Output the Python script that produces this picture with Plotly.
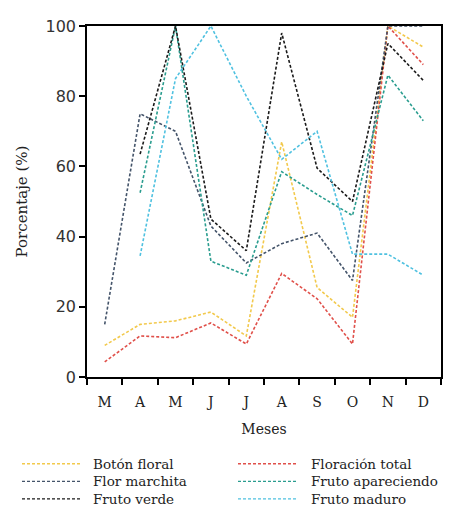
import plotly.graph_objects as go

months = ["M", "A", "M", "J", "J", "A", "S", "O", "N", "D"]

boton_floral      = [9, 15, 16, 18.5, 11.7, 67, 25.5, 17, 100, 94]
floracion_total   = [4.3, 11.7, 11.2, 15.4, 9.4, 29.5, 22.3, 9.4, 100, 89]
flor_marchita     = [15, 75, 70, 43, 32.5, 38, 41, 27.5, 100, 100]
fruto_apareciendo = [None, 52.5, 100, 33, 29, 58.5, 52, 46, 86, 73]
fruto_verde       = [None, 63.5, 100, 45, 36, 98, 59.5, 50, 95, 84.5]
fruto_maduro      = [None, 34.5, 85, 100, 80, 62, 70, 35, 35, 29]

series_names = ["Botón floral", "Floración total", "Flor marchita",
                "Fruto apareciendo", "Fruto verde", "Fruto maduro"]
series_values = [boton_floral, floracion_total, flor_marchita,
                 fruto_apareciendo, fruto_verde, fruto_maduro]
series_colors = ["#f2c94c", "#e0504a", "#44546a", "#2a9d8f", "#1a1a1a", "#4fc1e0"]

OFF = 8  # page body margin
W, H = 465 - OFF, 521 - OFF
L, R, T, B = 87 - OFF, 24, 17 - OFF, 144
PW, PH = W - L - R, H - T - B

def px2x(px):
    return (px - OFF - L) / PW

def py2y(py):
    return (H - B - (py - OFF)) / PH

dash = "3px,2px"
x = list(range(len(months)))
fig = go.Figure()
for name, vals, col in zip(series_names, series_values, series_colors):
    fig.add_trace(go.Scatter(
        x=x, y=vals, name=name, mode="lines",
        line=dict(color=col, width=1.6, dash=dash),
        connectgaps=False, showlegend=False,
    ))

serif = "DejaVu Serif"
# custom two-column legend below the chart (screen pixel positions)
col_x = [(22, 80, 92), (238, 298, 310)]
row_y = [466, 484, 502]
for i, (name, col) in enumerate(zip(series_names, series_colors)):
    cx0, cx1, tx = col_x[i % 2]
    ry = row_y[i // 2]
    fig.add_shape(type="line", xref="paper", yref="paper",
                  x0=px2x(cx0), x1=px2x(cx1), y0=py2y(ry), y1=py2y(ry),
                  line=dict(color=col, width=1.4, dash=dash))
    fig.add_annotation(xref="paper", yref="paper", x=px2x(tx), y=py2y(ry),
                       xanchor="left", yanchor="middle", showarrow=False,
                       borderpad=0,
                       text=name, font=dict(family=serif, size=13.5, color="#222"))

fig.update_layout(
    width=W, height=H,
    margin=dict(l=L, r=R, t=T, b=B),
    paper_bgcolor="white", plot_bgcolor="white",
    showlegend=False,
)
fig.update_xaxes(
    range=[-0.5, len(months) - 0.5],
    tickmode="array", tickvals=x, ticktext=months,
    ticks="", showgrid=False, zeroline=False, ticklabelstandoff=11,
    showline=True, linecolor="black", linewidth=1.5, mirror=True,
    tickfont=dict(family=serif, size=14, color="#222"),
    minor=dict(tickmode="array", tickvals=[i - 0.5 for i in range(len(months) + 1)],
               ticks="outside", ticklen=6, tickcolor="black", tickwidth=1.5, showgrid=False),
    title=dict(text="Meses", font=dict(family=serif, size=14, color="#222"), standoff=16),
)
fig.update_yaxes(
    range=[0, 100], tickmode="array", tickvals=[0, 20, 40, 60, 80, 100],
    ticks="outside", ticklen=6, tickcolor="black", tickwidth=1.5,
    showgrid=False, zeroline=False,
    showline=True, linecolor="black", linewidth=1.5, mirror=True,
    tickfont=dict(family="DejaVu Sans", size=16, color="#333"),
    title=dict(text="Porcentaje (%)", font=dict(family=serif, size=15, color="#222"), standoff=14),
)
fig.write_html("out.html")
